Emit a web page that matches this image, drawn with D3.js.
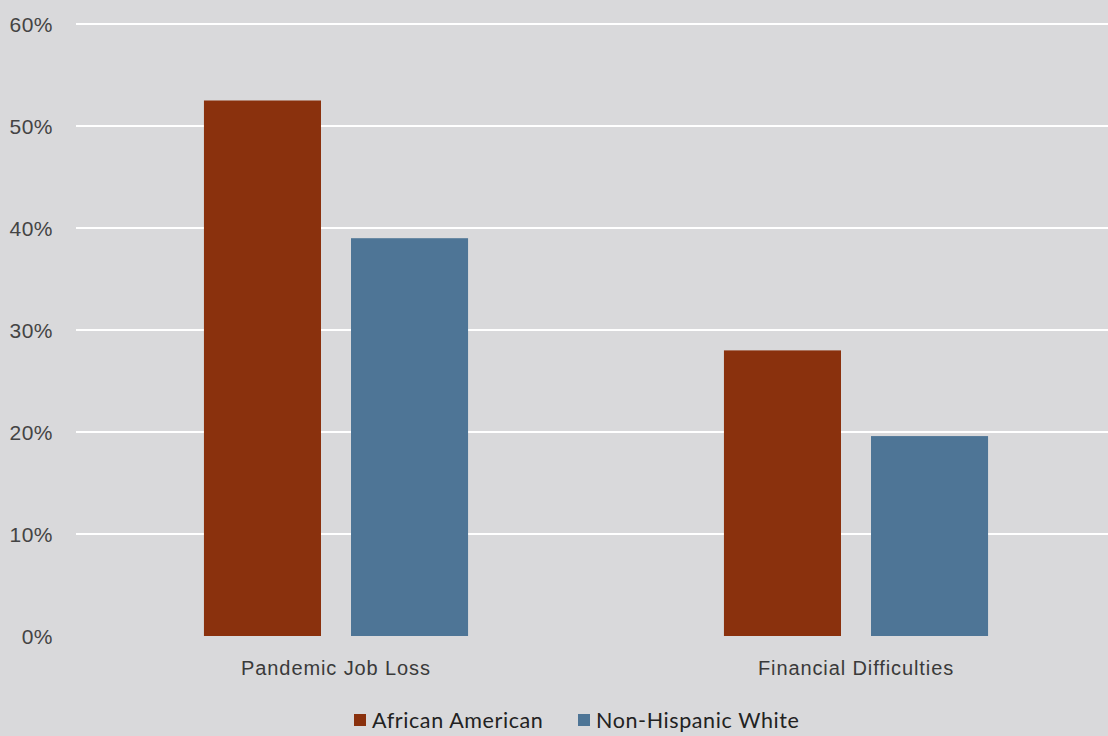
<!DOCTYPE html>
<html><head><meta charset="utf-8">
<script src="https://cdn.jsdelivr.net/npm/d3@7"></script>
<style>
html,body{margin:0;padding:0;background:#d9d9db;}
svg{display:block;font-family:Lato,"Open Sans",sans-serif;font-weight:300;}
</style></head>
<body>
<svg id="c" width="1108" height="736"></svg>
<script>
const categories = ["Pandemic Job Loss", "Financial Difficulties"];
const seriesNames = ["African American", "Non-Hispanic White"];
const africanAmerican = [52.5, 28.0];
const nonHispanicWhite = [39.0, 19.6];
const yTicks = [0, 10, 20, 30, 40, 50, 60];
const colors = ["#8a310d", "#4e7596"];

const svg = d3.select("#c");
const W = 1108, H = 736;
svg.append("rect").attr("width", W).attr("height", H).attr("fill", "#d9d9db");

const x0 = d3.scaleBand().domain(categories).range([76, 1116]).paddingInner(0).paddingOuter(0);
const y = d3.scaleLinear().domain([0, 60]).range([636, 24]);
const x1 = d3.scaleBand().domain(seriesNames).range([0, x0.bandwidth()]).paddingInner(0.204).paddingOuter(0.87);

// gridlines
svg.append("g").selectAll("line").data(yTicks.filter(d => d > 0)).join("line")
  .attr("x1", 76).attr("x2", W).attr("y1", d => y(d)).attr("y2", d => y(d))
  .attr("stroke", "#ffffff").attr("stroke-width", 2);

// y axis labels
const yAxis = d3.axisLeft(y).tickValues(yTicks).tickFormat(d => d + "%").tickSize(0).tickPadding(0);
const gy = svg.append("g").attr("transform", "translate(53,0)").call(yAxis);
gy.select(".domain").remove();
gy.selectAll("text").attr("font-size", 21).attr("fill", "#444").attr("font-family", "inherit")
  .attr("dy", "0.35em").style("letter-spacing", "0.5px");

const series = [africanAmerican, nonHispanicWhite];
const data = [];
categories.forEach((c, i) => seriesNames.forEach((s, j) => data.push({c, s, v: series[j][i], j})));

svg.append("g").selectAll("rect").data(data).join("rect")
  .attr("x", d => x0(d.c) + x1(d.s))
  .attr("width", x1.bandwidth())
  .attr("y", d => y(d.v))
  .attr("height", d => y(0) - y(d.v))
  .attr("fill", d => colors[d.j]);

// x axis labels
const xAxis = d3.axisBottom(x0).tickSize(0).tickPadding(0);
const gx = svg.append("g").attr("transform", "translate(0,661)").call(xAxis);
gx.select(".domain").remove();
gx.selectAll("text").attr("font-size", 20).attr("fill", "#3a3a3a").attr("font-family", "inherit")
  .attr("dy", "0.71em").style("letter-spacing", "0.9px");

// legend
const legend = svg.append("g");
const lx = [354, 578];
seriesNames.forEach((s, j) => {
  legend.append("rect").attr("x", lx[j]).attr("y", 714).attr("width", 12).attr("height", 12).attr("fill", colors[j]);
  legend.append("text").attr("x", lx[j] + 18).attr("y", 728).attr("font-size", 21.5).attr("fill", "#222")
    .style("font-weight", 400).style("letter-spacing", "0.6px").text(s);
});
</script>
</body></html>
